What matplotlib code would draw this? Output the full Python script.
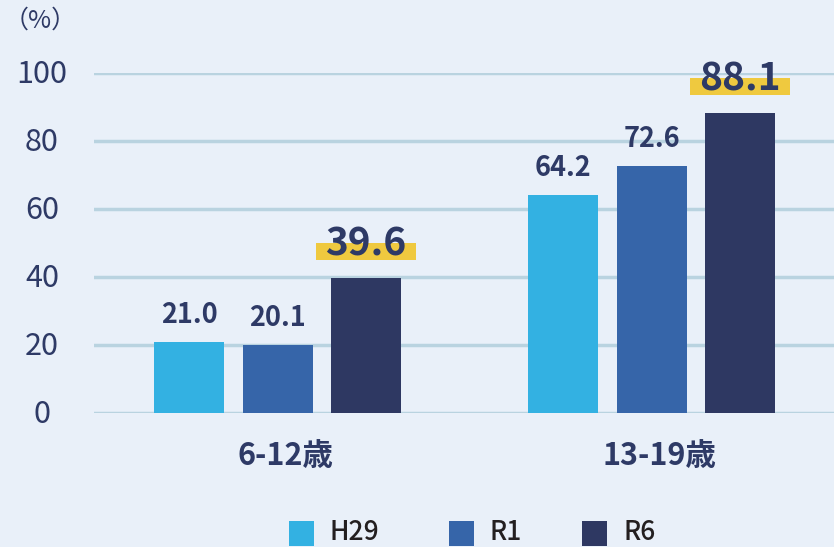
import matplotlib
matplotlib.use("Agg")
import matplotlib.pyplot as plt
import matplotlib.transforms as mtrans
from matplotlib.patches import Rectangle

categories = ["6-12歳", "13-19歳"]
series = ["H29", "R1", "R6"]
values = {
    "H29": [21.0, 64.2],
    "R1": [20.1, 72.6],
    "R6": [39.6, 88.1],
}
yticks = [0, 20, 40, 60, 80, 100]
unit_label = "（%）"

colors = {"H29": "#33b1e2", "R1": "#3665a9", "R6": "#2e3862"}
bg = "#e9f0f9"
grid_c = "#b9d3e0"
navy = "#2e3a66"
yellow = "#efc93f"

W, H = 834, 547
plt.rcParams["font.family"] = ["Noto Sans CJK JP", "DejaVu Sans"]
fig = plt.figure(figsize=(W / 100, H / 100), dpi=100, facecolor=bg)

def fx(px):
    return px / W

def fy(py):
    return 1 - py / H

# axes: x 94..834 px, y 413 (0) .. 73 (100)
ax = fig.add_axes([fx(94), fy(413), fx(834) - fx(94), fy(73) - fy(413)])
ax.patch.set_alpha(0)
ax.set_ylim(0, 100)
left = -(277.5 - 94) / 374
right = (834 - 277.5) / 374
ax.set_xlim(left, right)
for s in ax.spines.values():
    s.set_visible(False)
ax.set_xticks([])
ax.set_yticks([])

ytrans = mtrans.blended_transform_factory(fig.transFigure, ax.transData)
for t in yticks:
    ax.axhline(t, color=grid_c, lw=2.5, zorder=1)
    ax.text(fx(42), t - 0.3, str(t), transform=ytrans, ha="center", va="center",
            fontsize=22, color=navy, fontweight="normal")

bw = 70 / 374
off = 88.5 / 374
for i, s in enumerate(series):
    xs = [g + (i - 1) * off for g in range(len(categories))]
    ax.bar(xs, values[s], width=bw, color=colors[s], zorder=2)
    for x, v in zip(xs, values[s]):
        if s == "R6":
            ax.add_patch(Rectangle((x - 50 / 374, v + 5.4), 100 / 374, 5.0,
                                   facecolor=yellow, edgecolor="none", zorder=3, clip_on=False))
            ax.text(x, v + 6.8, f"{v:.1f}", ha="center", va="baseline", fontsize=28,
                    fontweight="bold", color=navy, zorder=4, clip_on=False)
        else:
            ax.text(x, v + 5.5, f"{v:.1f}", ha="center", va="baseline", fontsize=19.5,
                    fontweight="bold", color=navy, zorder=4, clip_on=False)

for g, c in enumerate(categories):
    ax.text(g + 0.02, -12.5, c, ha="center", va="center", fontsize=22,
            fontweight="bold", color=navy, clip_on=False)

fig.text(fx(40), fy(21), unit_label, ha="center", va="center", fontsize=18, color=navy)

# legend
leg_sq = [289, 449, 582]
for s, px in zip(series, leg_sq):
    fig.add_artist(Rectangle((fx(px), fy(546)), fx(25), 25 / H, transform=fig.transFigure,
                             facecolor=colors[s], edgecolor="none"))
    fig.text(fx(px + 41), fy(546), s, ha="left", va="bottom", fontsize=19,
             color="#231f20", fontweight="medium")

fig.savefig("out.png", dpi=100, facecolor=bg)
